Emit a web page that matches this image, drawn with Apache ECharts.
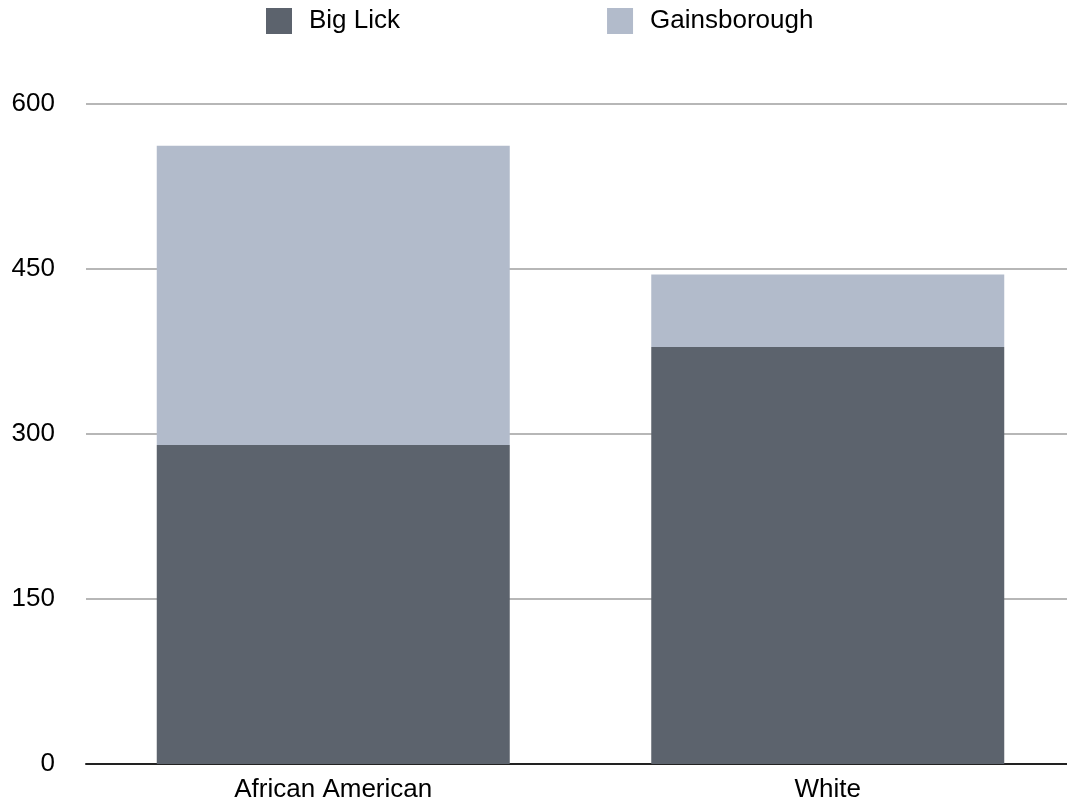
<!DOCTYPE html>
<html>
<head>
<meta charset="utf-8">
<script src="https://cdn.jsdelivr.net/npm/echarts@6/dist/echarts.min.js"></script>
<style>
html,body{margin:0;padding:0;background:#fff;}
#chart{width:1067px;height:805px;}
</style>
</head>
<body>
<div id="chart"></div>
<script>
var categories = ['African American', 'White'];
var bigLick = [290, 379];
var gainsborough = [272, 66];
var yTicks = [0, 150, 300, 450, 600];

var chart = echarts.init(document.getElementById('chart'), null, {renderer: 'canvas'});
var font = 'Liberation Sans, Arial, Helvetica, sans-serif';
chart.setOption({
  animation: false,
  textStyle: {fontFamily: font},
  legend: {
    top: 8,
    left: 266,
    padding: 0,
    itemWidth: 26,
    itemHeight: 26,
    itemGap: 207,
    icon: 'rect',
    textStyle: {fontSize: 26, color: '#000', fontFamily: font, padding: [4, 0, 0, 12]},
    data: ['Big Lick', 'Gainsborough']
  },
  grid: {left: 86, right: -8, top: 104, bottom: 41, containLabel: false, outerBoundsMode: 'none'},
  xAxis: {
    type: 'category',
    data: categories,
    axisLine: {lineStyle: {color: '#222', width: 2}},
    axisTick: {show: false},
    axisLabel: {fontSize: 26, color: '#000', margin: 13, fontFamily: font}
  },
  yAxis: {
    type: 'value',
    min: yTicks[0],
    max: yTicks[yTicks.length - 1],
    interval: 150,
    axisLine: {show: false},
    axisTick: {show: false},
    splitLine: {lineStyle: {color: '#b7b7b7', width: 2}},
    axisLabel: {fontSize: 26, color: '#000', margin: 31, fontFamily: font}
  },
  series: [
    {name: 'Big Lick', type: 'bar', stack: 'total', data: bigLick, barWidth: 353,
     itemStyle: {color: '#5c636d'}},
    {name: 'Gainsborough', type: 'bar', stack: 'total', data: gainsborough, barWidth: 353,
     itemStyle: {color: '#b2bbcb'}}
  ]
});
</script>
</body>
</html>
